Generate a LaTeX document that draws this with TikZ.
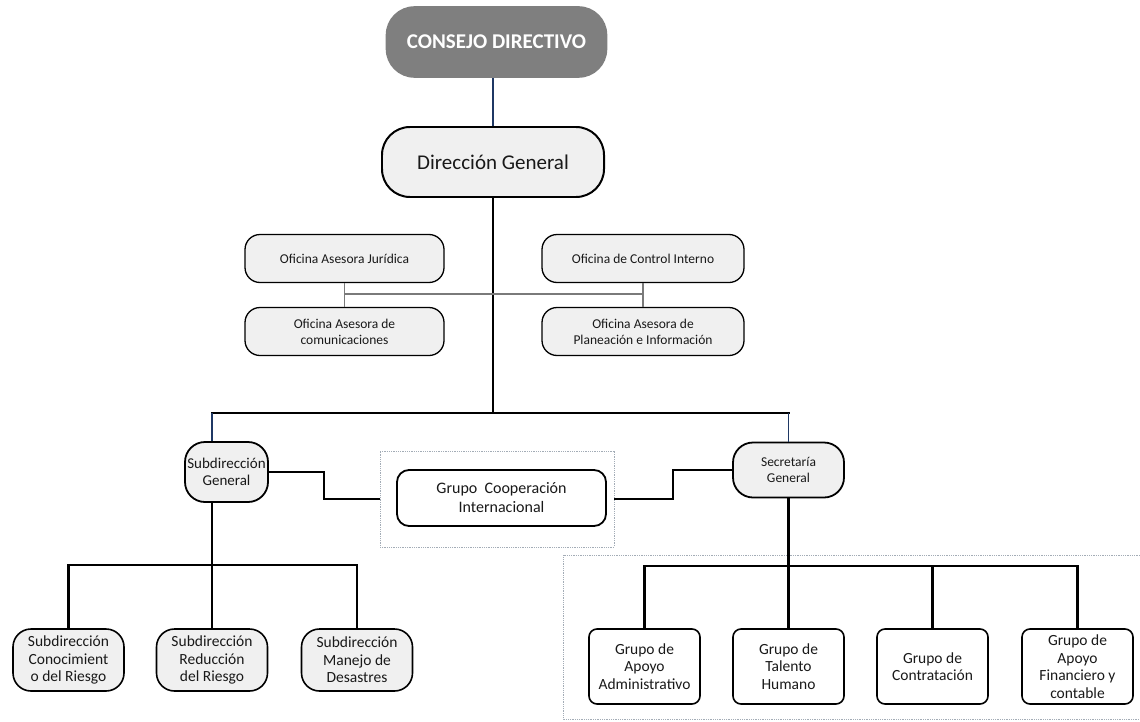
\documentclass[tikz,border=0pt]{standalone}
\usepackage{fontspec}
\setmainfont{Carlito}
\definecolor{boxfill}{HTML}{F0F0F0}
\definecolor{boardfill}{HTML}{7F7F7F}
\definecolor{navyline}{HTML}{1F3864}
\definecolor{framegray}{HTML}{A3ACB6}
\definecolor{linegray}{HTML}{7A7A7A}
\newcommand\fsz[2]{\fontsize{#1bp}{#2bp}\selectfont}
\begin{document}
\begin{tikzpicture}[x=1bp,y=-1bp,
  box/.style={draw=black, fill=boxfill, line width=1.6pt, align=center,
              inner sep=0pt, text=black!90},
  office/.style={box, line width=1.3pt, minimum height=48bp, rounded corners=15bp,
                 font=\fsz{13.5}{16}},
  subbox/.style={box, minimum width=111bp, minimum height=62bp, rounded corners=18bp,
                 font=\fsz{15.5}{17.5}},
  groupbox/.style={box, fill=white, minimum width=111bp, minimum height=75bp,
                   rounded corners=8bp, font=\fsz{15.5}{17.5}},
  frame/.style={draw=framegray, densely dotted, line width=0.8pt},
  link/.style={draw=black, line width=2.2pt, line join=miter},
  navylink/.style={draw=navyline, line width=2pt},
  navythin/.style={draw=navyline, line width=1.1pt},
  graylink/.style={draw=linegray, line width=1.2pt}
]
\useasboundingbox (0,0) rectangle (1140,722);

% ---- top of the chart
\node[box, draw=boardfill, fill=boardfill, text=white, minimum width=220bp,
      minimum height=70bp, rounded corners=28bp, font=\fsz{21}{25}\bfseries]
      (CD) at (496.5,42) {CONSEJO DIRECTIVO};
\node[box, line width=2pt, minimum width=222bp, minimum height=70bp,
      rounded corners=28bp, font=\fsz{21}{25}] (DG) at (493,162) {Dirección General};

% ---- advisory offices
\node[office, minimum width=199bp] (JUR) at (344.5,258.5) {Oficina Asesora Jurídica};
\node[office, minimum width=199bp] (COM) at (344.5,331.5) {Oficina Asesora de\\comunicaciones};
\node[office, minimum width=202bp] (CTRL) at (643,258.5) {Oficina de Control Interno};
\node[office, minimum width=202bp] (PLAN) at (643,331.5) {Oficina Asesora de\\Planeación e Información};

% ---- second level
\node[box, line width=1.8pt, minimum width=83bp, minimum height=60bp,
      rounded corners=20bp, font=\fsz{15}{17.5}] (SUBG) at (226.5,472)
      {Subdirección\\General};
\node[box, line width=1.8pt, minimum width=111bp, minimum height=55bp,
      rounded corners=20bp, font=\fsz{13.5}{16}] (SECG) at (788.5,470)
      {Secretaría\\General};
\node[frame, minimum width=234bp, minimum height=96bp, inner sep=0pt] (COOPF) at (497,499) {};
\node[box, fill=white, line width=1.8pt, minimum width=209bp, minimum height=56bp,
      rounded corners=12bp, font=\fsz{16}{19}] (COOP) at (501.5,498)
      {Grupo\ \ Cooperación\\Internacional};

% ---- sub-directorates
\node[subbox] (BL1) at (68.5,660) {Subdirección\\Conocimient\\o del Riesgo};
\node[subbox] (BL2) at (212,660) {Subdirección\\Reducción\\del Riesgo};
\node[subbox] (BL3) at (357,660) {Subdirección\\Manejo de\\Desastres};

% ---- support groups
\draw[frame] (1140,555) -- (563,555) -- (563,719) -- (1140,719);
\node[groupbox] (BR1) at (644.5,666.5) {Grupo de\\Apoyo\\Administrativo};
\node[groupbox] (BR2) at (788.5,666.5) {Grupo de\\Talento\\Humano};
\node[groupbox] (BR3) at (932.5,666.5) {Grupo de\\Contratación};
\node[groupbox] (BR4) at (1077.5,666.5) {Grupo de\\Apoyo\\Financiero y\\contable};

% ---- connectors
\coordinate (hub) at (493,413);
\coordinate (busW) at (212,413);
\coordinate (busE) at (788.5,413);
\coordinate (gl) at (344.5,294);
\coordinate (gr) at (643,294);

\draw[navylink] (DG.north) -- (DG.north |- CD.south);
\draw[link] (DG.south) -- (hub);
\draw[link, line cap=rect] (busW) -- (busE);
\draw[navylink] (busW) -- (busW |- SUBG.north);
\draw[navythin] (busE) -- (SECG.north);

\draw[graylink] (JUR.south) -- (COM.north);
\draw[graylink] (CTRL.south) -- (PLAN.north);
\draw[graylink] (gl) -- (gr);

\draw[link] (SUBG.east) -- (324,472) -- (324,499) -- (COOPF.west);
\draw[link] (COOPF.east) -- (673,499) -- (673,470) -- (SECG.west);

\draw[link] (busW |- SUBG.south) -- (BL2.north);
\draw[link] (BL1.north) -- (BL1.north |- 0,565) -- (BL3.north |- 0,565) -- (BL3.north);

\draw[link] (SECG.south) -- (BR2.north);
\draw[link] (BR1.north) -- (BR1.north |- 0,566) -- (BR4.north |- 0,566) -- (BR4.north);
\draw[link] (BR3.north) -- (BR3.north |- 0,566);
\end{tikzpicture}
\end{document}
